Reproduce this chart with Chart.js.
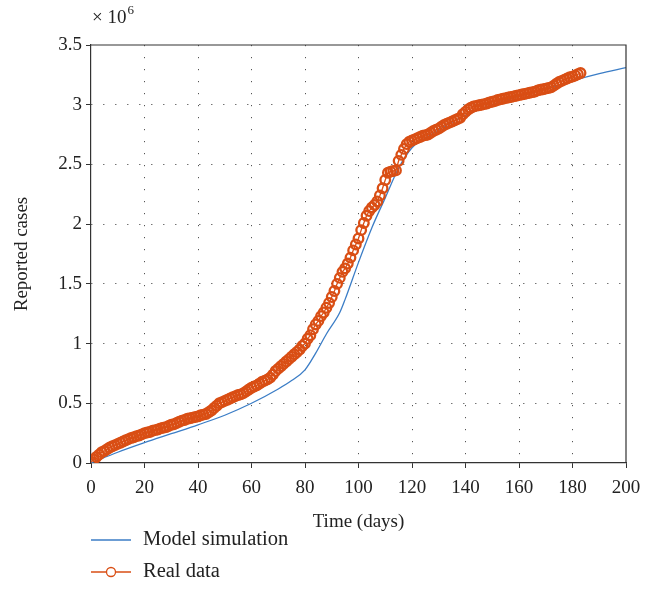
<!DOCTYPE html>
<html>
<head>
<meta charset="utf-8">
<script src="https://cdn.jsdelivr.net/npm/chart.js@4"></script>
<style>
  html, body { margin: 0; padding: 0; background: #fff; }
  #wrap { width: 658px; height: 616px; }
</style>
</head>
<body>
<div id="wrap"><canvas id="casesChart" width="658" height="616"></canvas></div>
<script>
// reported cases, in millions, one value per day from day 0
const realCases = [
  0.01, 0.03, 0.05, 0.07, 0.09, 0.10, 0.115, 0.13, 0.14, 0.15,
  0.16, 0.17, 0.18, 0.19, 0.20, 0.21, 0.215, 0.225, 0.23, 0.24,
  0.25, 0.255, 0.26, 0.27, 0.275, 0.28, 0.29, 0.295, 0.30, 0.31,
  0.32, 0.325, 0.335, 0.345, 0.355, 0.36, 0.37, 0.375, 0.38, 0.385,
  0.39, 0.40, 0.405, 0.41, 0.425, 0.44, 0.46, 0.48, 0.50, 0.51,
  0.52, 0.53, 0.54, 0.55, 0.56, 0.57, 0.575, 0.585, 0.60, 0.615,
  0.63, 0.64, 0.65, 0.665, 0.68, 0.69, 0.70, 0.715, 0.74, 0.77,
  0.79, 0.81, 0.83, 0.85, 0.87, 0.89, 0.91, 0.93, 0.95, 0.98,
  1.00, 1.04, 1.07, 1.12, 1.16, 1.19, 1.23, 1.26, 1.30, 1.34,
  1.39, 1.44, 1.50, 1.55, 1.60, 1.63, 1.67, 1.72, 1.78, 1.83,
  1.88, 1.95, 2.01, 2.07, 2.11, 2.14, 2.16, 2.19, 2.24, 2.30,
  2.37, 2.43, 2.44, 2.445, 2.45, 2.53, 2.58, 2.63, 2.67, 2.69,
  2.70, 2.71, 2.72, 2.73, 2.74, 2.745, 2.75, 2.765, 2.78, 2.79,
  2.80, 2.815, 2.83, 2.84, 2.85, 2.86, 2.87, 2.88, 2.89, 2.92,
  2.94, 2.96, 2.975, 2.985, 2.99, 2.995, 3.00, 3.005, 3.01, 3.02,
  3.025, 3.03, 3.04, 3.045, 3.05, 3.055, 3.06, 3.065, 3.07, 3.075,
  3.08, 3.085, 3.09, 3.095, 3.10, 3.105, 3.11, 3.12, 3.125, 3.13,
  3.135, 3.14, 3.145, 3.16, 3.175, 3.19, 3.20, 3.21, 3.22, 3.23,
  3.235, 3.245, 3.255, 3.265
];
const realDays = realCases.map((v, i) => i);

// model curve, read at chosen days
const modelDays = [0, 10, 20, 30, 40, 50, 60, 70, 75, 80, 84, 88, 93, 95, 100, 105, 110, 115, 120, 125, 130, 140, 150, 160, 170, 180, 190, 200];
const modelCases = [0.0, 0.09, 0.17, 0.245, 0.32, 0.40, 0.50, 0.62, 0.69, 0.78, 0.92, 1.08, 1.26, 1.37, 1.68, 1.97, 2.22, 2.47, 2.64, 2.72, 2.79, 2.91, 3.00, 3.07, 3.13, 3.20, 3.26, 3.31];

const xTicks = [0, 20, 40, 60, 80, 100, 120, 140, 160, 180, 200];
const yTicks = [0, 0.5, 1, 1.5, 2, 2.5, 3, 3.5];

const fontFamily = "'Liberation Serif', 'Times New Roman', serif";
const blue = "#3b7dc6";
const orange = "#d94e14";

const extras = {
    id: "extras",
    afterDraw(chart) {
        const ctx = chart.ctx;
        const area = chart.chartArea;
        ctx.save();
        // box on top and right
        ctx.strokeStyle = "#333";
        ctx.lineWidth = 1.2;
        ctx.beginPath();
        ctx.moveTo(area.left, area.top);
        ctx.lineTo(area.right, area.top);
        ctx.lineTo(area.right, area.bottom);
        ctx.stroke();

        // exponent label
        ctx.fillStyle = "#222";
        ctx.textBaseline = "alphabetic";
        ctx.textAlign = "left";
        ctx.font = "19px " + fontFamily;
        ctx.fillText("\u00d7 10", 92, 23);
        const w = ctx.measureText("\u00d7 10").width;
        ctx.font = "13px " + fontFamily;
        ctx.fillText("6", 92 + w + 1, 14);

        // legend
        const items = [
            { label: chart.data.datasets[1].label, color: blue, marker: false, y: 540 },
            { label: chart.data.datasets[0].label, color: orange, marker: true, y: 572 }
        ];
        items.forEach(item => {
            ctx.strokeStyle = item.color;
            ctx.lineWidth = 1.3;
            ctx.beginPath();
            ctx.moveTo(91, item.y);
            ctx.lineTo(131, item.y);
            ctx.stroke();
            if (item.marker) {
                ctx.fillStyle = "#fff";
                ctx.beginPath();
                ctx.arc(111, item.y, 4.5, 0, Math.PI * 2);
                ctx.fill();
                ctx.stroke();
            }
            ctx.fillStyle = "#222";
            ctx.font = "20.5px " + fontFamily;
            ctx.textBaseline = "middle";
            ctx.fillText(item.label, 143, item.y);
        });
        ctx.restore();
    }
};

const ctx = document.getElementById("casesChart").getContext("2d");
new Chart(ctx, {
    type: "scatter",
    data: {
        datasets: [{
            label: "Real data",
            data: realDays.map((d, i) => ({ x: d, y: realCases[i] })),
            showLine: true,
            borderColor: orange,
            borderWidth: 1.3,
            backgroundColor: "rgba(0,0,0,0)",
            pointRadius: 4.8,
            pointBorderWidth: 2.3,
            pointBorderColor: orange,
            pointBackgroundColor: "rgba(0,0,0,0)"
        }, {
            label: "Model simulation",
            data: modelDays.map((d, i) => ({ x: d, y: modelCases[i] })),
            showLine: true,
            borderColor: blue,
            borderWidth: 1.3,
            pointRadius: 0,
            cubicInterpolationMode: "monotone"
        }]
    },
    options: {
        responsive: false,
        animation: false,
        layout: { padding: { left: 0, top: 45, right: 32, bottom: 83 } },
        plugins: {
            legend: { display: false },
            tooltip: { enabled: false }
        },
        scales: {
            x: {
                type: "linear",
                min: 0,
                max: 200,
                afterBuildTicks: axis => { axis.ticks = xTicks.map(v => ({ value: v })); },
                afterFit: axis => { axis.height = 70; },
                ticks: {
                    color: "#222",
                    font: { family: fontFamily, size: 19 },
                    padding: 9,
                    maxRotation: 0
                },
                grid: {
                    color: ctx2 => (ctx2.tick && (ctx2.tick.value === 0 || ctx2.tick.value === 200)) ? "rgba(0,0,0,0)" : "#555",
                    tickColor: "#333",
                    tickLength: 5,
                    tickBorderDash: [],
                    lineWidth: 1
                },
                border: { color: "#333", width: 1.2, dash: [1.2, 10.8] },
                title: {
                    display: true,
                    text: "Time (days)",
                    color: "#222",
                    font: { family: fontFamily, size: 19 },
                    padding: { top: 0, bottom: 0 }
                }
            },
            y: {
                type: "linear",
                min: 0,
                max: 3.5,
                afterBuildTicks: axis => { axis.ticks = yTicks.map(v => ({ value: v })); },
                afterFit: axis => { axis.width = 91; },
                ticks: {
                    color: "#222",
                    font: { family: fontFamily, size: 19 },
                    padding: 4,
                    callback: v => String(v)
                },
                grid: {
                    color: ctx2 => (ctx2.tick && (ctx2.tick.value === 0 || ctx2.tick.value === 3.5)) ? "rgba(0,0,0,0)" : "#555",
                    tickColor: "#333",
                    tickLength: 5,
                    tickBorderDash: [],
                    lineWidth: 1
                },
                border: { color: "#333", width: 1.2, dash: [1.2, 10.8] },
                title: {
                    display: true,
                    text: "Reported cases",
                    color: "#222",
                    font: { family: fontFamily, size: 19 },
                    padding: { top: 11, bottom: 0 }
                }
            }
        }
    },
    plugins: [extras]
});
</script>
</body>
</html>
